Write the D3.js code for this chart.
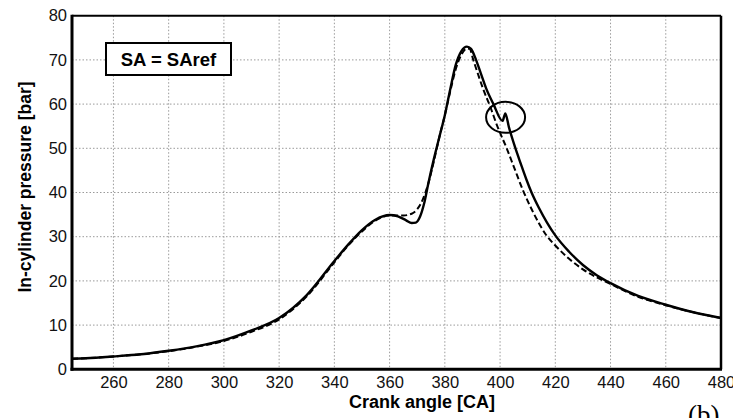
<!DOCTYPE html>
<html>
<head>
<meta charset="utf-8">
<script src="https://cdn.jsdelivr.net/npm/d3@7"></script>
<style>
  html, body { margin: 0; padding: 0; background: #fff; }
  svg { display: block; }
  text { font-family: Arial, "Liberation Sans", sans-serif; }
</style>
</head>
<body>
<svg id="chart" width="733" height="418"></svg>
<script>
// ---- data ----
const xTicks = [260, 280, 300, 320, 340, 360, 380, 400, 420, 440, 460, 480];
const yTicks = [0, 10, 20, 30, 40, 50, 60, 70, 80];

const solidCA = [245,250,260,270,280,290,300,310,320,330,340,345,350,355,360,363,366,368,369.5,371,372.5,374,376,378,380,382,384,386,388,389.5,391.3,393,395,397.6,400.9,401.9,403.2,405.4,407.5,409.5,411.4,414,417,420,425,430,435,440,450,460,470,480];
const solidP  = [2.4,2.5,2.9,3.4,4.2,5.2,6.6,8.8,11.6,16.8,24.5,28.2,31.5,33.9,34.9,34.6,33.7,33.1,33.2,34.5,37.5,42,47.5,52.5,57.5,63.5,69,72,73,72.5,70,67,63.5,60,56.2,57.9,54.8,50.3,46.5,43,40,36.6,33.2,30.3,26.6,23.6,21.3,19.5,16.6,14.6,12.9,11.6];

const dashedCA = [245,250,260,270,280,290,300,310,320,330,340,345,350,355,360,365,368,370,372,374,376,378,380,382,384,386,388,389,390.3,392,394,396.4,399,402.4,405,408.3,412,416.9,420,425,430,435,440,450,460,470,480];
const dashedP  = [2.4,2.5,2.9,3.4,4.1,5.1,6.4,8.5,11.3,16.5,24.2,28,31.2,33.7,34.8,34.8,35.2,36.2,38.4,42,47,52.5,57.5,63,68,71.2,72.6,72.5,70,66.8,63.2,59.5,55,50,45.8,40.5,35.5,30.2,28,25,22.6,20.8,19.3,16.4,14.5,12.9,11.6];

const legendLabel = "SA = SAref";
const xLabel = "Crank angle [CA]";
const yLabel = "In-cylinder pressure [bar]";
const markerCA = [402];   // highlighted notch (ellipse centre)
const markerP = [57];

// ---- layout ----
const svg = d3.select("#chart");
const L = 72, R = 721, T = 15.7, B = 369.3;
const x = d3.scaleLinear().domain([245, 480]).range([L, R]);
const y = d3.scaleLinear().domain([0, 80]).range([B, T]);

// grid
const grid = svg.append("g");
grid.selectAll("line.v").data(xTicks.filter(d => d < 480)).join("line")
  .attr("x1", d => x(d)).attr("x2", d => x(d))
  .attr("y1", T).attr("y2", B)
  .attr("stroke", "#9a9a9a").attr("stroke-width", 1).attr("stroke-dasharray", "1.5,2");
grid.selectAll("line.h").data(yTicks.filter(d => d > 0 && d < 80)).join("line")
  .attr("x1", L).attr("x2", R)
  .attr("y1", d => y(d)).attr("y2", d => y(d))
  .attr("stroke", "#9a9a9a").attr("stroke-width", 1).attr("stroke-dasharray", "1.5,2");

// axes (labels only)
const xAxis = svg.append("g").attr("transform", `translate(0,${B})`)
  .call(d3.axisBottom(x).tickValues(xTicks).tickSize(0).tickPadding(7));
xAxis.select(".domain").remove();
xAxis.selectAll("text").attr("font-size", 16.5).attr("fill", "#111")
  .style("font-family", "Arial, 'Liberation Sans', sans-serif");

const yAxis = svg.append("g").attr("transform", `translate(${L},0)`)
  .call(d3.axisLeft(y).tickValues(yTicks).tickSize(0).tickPadding(5));
yAxis.select(".domain").remove();
yAxis.selectAll("text").attr("font-size", 16.5).attr("fill", "#111")
  .style("font-family", "Arial, 'Liberation Sans', sans-serif");

// lines
const line = d3.line().x(d => x(d[0])).y(d => y(d[1])).curve(d3.curveMonotoneX);
svg.append("path").datum(dashedCA.map((c, i) => [c, dashedP[i]]))
  .attr("d", line).attr("fill", "none").attr("stroke", "#000")
  .attr("stroke-width", 2).attr("stroke-dasharray", "6,3");
svg.append("path").datum(solidCA.map((c, i) => [c, solidP[i]]))
  .attr("d", line).attr("fill", "none").attr("stroke", "#000")
  .attr("stroke-width", 2.4);

// ellipse marker
svg.selectAll("ellipse.mk").data(markerCA).join("ellipse")
  .attr("cx", d => x(d)).attr("cy", (d, i) => y(markerP[i]))
  .attr("rx", 19.5).attr("ry", 15.5)
  .attr("fill", "none").attr("stroke", "#000").attr("stroke-width", 2);

// frame
svg.append("line").attr("x1", L).attr("x2", R).attr("y1", T).attr("y2", T).attr("stroke", "#000").attr("stroke-width", 2);
svg.append("line").attr("x1", R).attr("x2", R).attr("y1", T).attr("y2", B).attr("stroke", "#000").attr("stroke-width", 2.5);
svg.append("line").attr("x1", L).attr("x2", L).attr("y1", T - 1).attr("y2", B + 1.5).attr("stroke", "#000").attr("stroke-width", 3);
svg.append("line").attr("x1", L - 1.5).attr("x2", R + 1).attr("y1", B).attr("y2", B).attr("stroke", "#000").attr("stroke-width", 3);

// legend box
svg.append("rect").attr("x", 106).attr("y", 43).attr("width", 125).attr("height", 32)
  .attr("fill", "#fff").attr("stroke", "#000").attr("stroke-width", 2);
svg.append("text").attr("x", 168.5).attr("y", 65.5).attr("text-anchor", "middle")
  .attr("font-size", 18.5).attr("font-weight", "bold").text(legendLabel);

// axis titles
svg.append("text").attr("x", 422).attr("y", 408).attr("text-anchor", "middle")
  .attr("font-size", 18).attr("font-weight", "bold").text(xLabel);
svg.append("text").attr("transform", "translate(31,187) rotate(-90)")
  .attr("text-anchor", "middle").attr("font-size", 17.5).attr("font-weight", "bold").text(yLabel);

// panel tag, cut off at bottom as in the reference
svg.append("text").attr("x", 688).attr("y", 424)
  .style("font-family", "'Liberation Serif', 'Times New Roman', serif")
  .attr("font-size", 27).text("(b)");
</script>
</body>
</html>
